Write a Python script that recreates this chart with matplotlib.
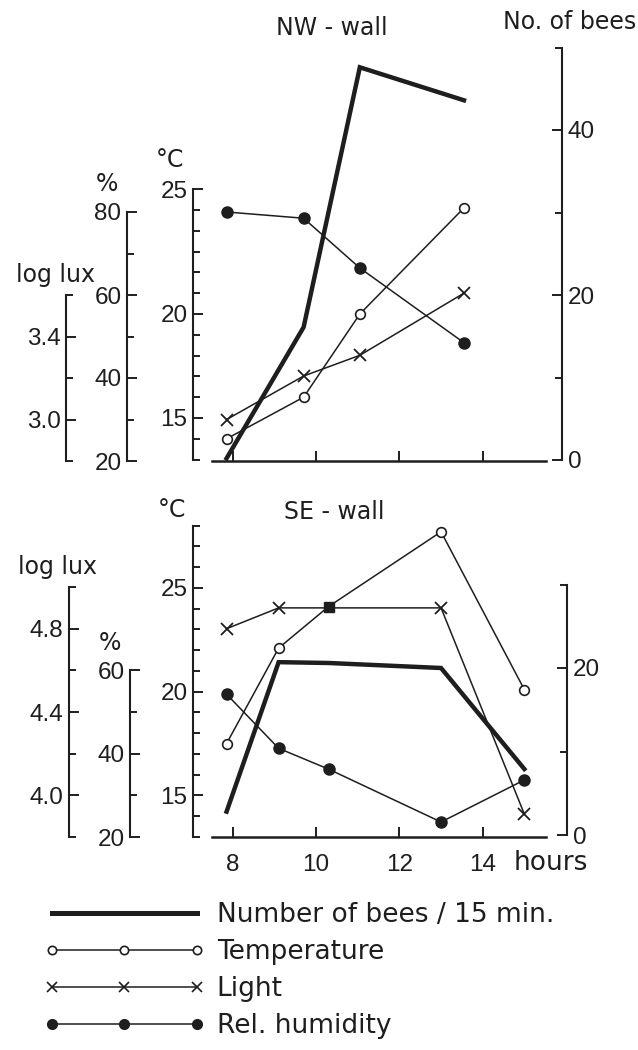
import numpy as np
import matplotlib
matplotlib.use("Agg")
import matplotlib.pyplot as plt
from matplotlib.lines import Line2D

W, H = 638, 1050
INK = "#1e1e1e"
TEXT_FONT = "DejaVu Sans"
plt.rcParams["font.family"] = "Liberation Sans"

# NW-wall readings (time of day in hours)
nw_hours = [7.85, 9.7, 11.05, 13.55]
nw_bees = [0.2, 16.1, 47.6, 43.6]
nw_temp = [14.0, 16.0, 20.0, 25.1]
nw_light = [3.0, 3.21, 3.31, 3.61]
nw_humid = [80.0, 78.5, 66.5, 48.5]

# SE-wall readings
se_hours = [7.85, 9.1, 10.3, 13.0, 15.0]
se_bees = [2.8, 20.7, 20.6, 20.0, 7.9]
se_temp = [17.5, 22.1, 24.1, 27.7, 20.1]
se_light = [4.80, 4.90, 4.90, 4.90, 3.91]
se_humid = [54.3, 41.3, 36.3, 23.6, 33.7]
se_cross = 2  # temperature and light readings coincide here

hour_ticks = [8, 10, 12, 14]
hour_labels = ["8", "10", "12", "14"]

# plot box in pixels, shared by both panels
X0, X1 = 212, 546


def fpos(x, y):
    return x / W, 1 - y / H


def add_scale(host, y_top, y_bot, side, spine_x, cal, bounds, major, labels, step):
    (v1, p1), (v2, p2) = cal
    k = (v2 - v1) / (p1 - p2)
    ax = host.twinx()
    ax.set_ylim(v1 - (y_bot - p1) * k, v1 + (p1 - y_top) * k)
    for s in ax.spines.values():
        s.set_visible(False)
    sp = ax.spines[side]
    sp.set_visible(True)
    sp.set_position(("axes", (spine_x - X0) / (X1 - X0)))
    sp.set_bounds(*bounds)
    sp.set_linewidth(1.5)
    sp.set_color(INK)
    ax.set_yticks(major, labels=labels)
    ax.set_yticks(np.arange(bounds[0], bounds[1] + step / 2, step), minor=True)
    left = side == "left"
    ax.tick_params(axis="y", which="both", direction="in", color=INK,
                   left=left, right=not left, labelleft=left, labelright=not left,
                   width=1.4, labelsize=17.5, labelcolor=INK, pad=4)
    ax.tick_params(axis="y", which="major", length=7)
    ax.tick_params(axis="y", which="minor", length=5)
    return ax


def add_panel(y_top, y_bot, scales, show_hours):
    host = fig.add_axes([X0 / W, 1 - y_bot / H, (X1 - X0) / W, (y_bot - y_top) / H])
    host.set_xlim(7.5, 15.52)
    host.set_yticks([])
    for name in ("left", "right", "top"):
        host.spines[name].set_visible(False)
    host.spines["bottom"].set_linewidth(1.8)
    host.spines["bottom"].set_color(INK)
    host.patch.set_visible(False)
    host.set_xticks(hour_ticks, labels=hour_labels if show_hours else [])
    host.tick_params(axis="x", direction="in", length=7, width=1.4, color=INK,
                     pad=12, labelsize=17.5, labelcolor=INK)
    return host, {name: add_scale(host, y_top, y_bot, *spec) for name, spec in scales.items()}


fig = plt.figure(figsize=(W / 100, H / 100), dpi=100)

thin = dict(color=INK, lw=1.1, clip_on=False)
bees_style = dict(color=INK, lw=3.2, solid_joinstyle="miter", clip_on=False)
temp_mk = dict(marker="o", ms=7, mfc="white", mec=INK, mew=1.2)
light_mk = dict(marker="x", ms=8, mec=INK, mew=1.3)
humid_mk = dict(marker="o", ms=8, mfc=INK, mec=INK)

# NW-wall panel
nw_host, nw = add_panel(40, 461, {
    "temp": ("left", 193, ((15, 418), (20, 314)), (13, 26), [15, 20, 26], ["15", "20", "25"], 1),
    "humid": ("left", 127, ((20, 461), (80, 212)), (20, 80), [20, 40, 60, 80], ["20", "40", "60", "80"], 10),
    "light": ("left", 66, ((3.0, 420), (3.4, 337)), (2.8, 3.6), [3.0, 3.4], ["3.0", "3.4"], 0.2),
    "bees": ("right", 562, ((0, 460), (40, 130)), (0, 50), [0, 20, 40], ["0", "20", "40"], 10),
}, show_hours=False)

nw["bees"].plot(nw_hours, nw_bees, **bees_style)
nw["humid"].plot(nw_hours, nw_humid, **thin, **humid_mk)
nw["temp"].plot(nw_hours, nw_temp, **thin, **temp_mk)
nw["light"].plot(nw_hours, nw_light, **thin, **light_mk)

# SE-wall panel
se_host, se = add_panel(500, 837, {
    "temp": ("left", 193, ((15, 796), (20, 692)), (13, 28), [15, 20, 25], ["15", "20", "25"], 1),
    "humid": ("left", 130, ((20, 838), (60, 671)), (20, 60), [20, 40, 60], ["20", "40", "60"], 10),
    "light": ("left", 69, ((4.0, 796), (4.8, 629)), (3.8, 5.0), [4.0, 4.4, 4.8], ["4.0", "4.4", "4.8"], 0.2),
    "bees": ("right", 567, ((0, 835), (20, 668)), (0, 30), [0, 20], ["0", "20"], 10),
}, show_hours=True)

others = [i for i in range(len(se_hours)) if i != se_cross]
se["bees"].plot(se_hours, se_bees, **bees_style)
se["humid"].plot(se_hours, se_humid, **thin, **humid_mk)
se["light"].plot(se_hours, se_light, **thin, **light_mk, markevery=others)
se["temp"].plot(se_hours, se_temp, **thin, **temp_mk, markevery=others)
se["temp"].plot(se_hours[se_cross], se_temp[se_cross], marker="s", ms=7,
                mfc=INK, mec=INK, clip_on=False)

# axis captions and panel titles
label_kw = dict(ha="center", va="center", fontsize=17, color=INK, family=TEXT_FONT)
for x, y, s in [(332, 28, "NW - wall"), (570, 22, "No. of bees"), (170, 160, "°C"),
                (107, 184, "%"), (56, 275, "log lux"),
                (334, 512, "SE - wall"), (172, 510, "°C"), (58, 567, "log lux"),
                (110, 643, "%")]:
    fig.text(*fpos(x, y), s, **label_kw)
fig.text(*fpos(514, 870), "hours", ha="left", va="baseline", fontsize=19,
         color=INK, family=TEXT_FONT)

# key below the panels
handles = [
    Line2D([], [], color=INK, lw=3.6),
    Line2D([], [], color=INK, lw=1.1, marker="o", ms=6, mfc="white", mec=INK, mew=1.2),
    Line2D([], [], color=INK, lw=1.1, marker="x", ms=7, mec=INK, mew=1.2),
    Line2D([], [], color=INK, lw=1.1, marker="o", ms=7, mfc=INK, mec=INK),
]
names = ["Number of bees / 15 min.", "Temperature", "Light", "Rel. humidity"]
fig.legend(handles, names, loc="upper left", bbox_to_anchor=fpos(44, 902),
           frameon=False, prop={"family": TEXT_FONT, "size": 19}, labelcolor=INK,
           handlelength=6.1, handletextpad=0.45, labelspacing=0.42, numpoints=3,
           borderpad=0, borderaxespad=0)

fig.savefig("out.png", dpi=100, facecolor="white")
